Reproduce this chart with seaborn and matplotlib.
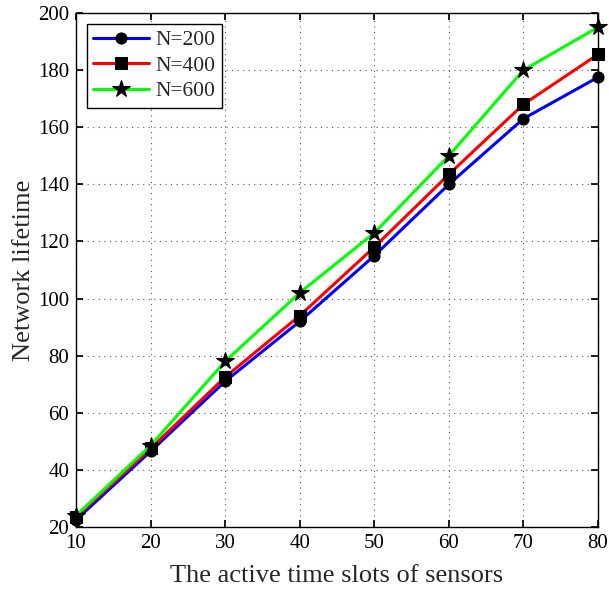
import matplotlib
matplotlib.use("Agg")
import matplotlib.pyplot as plt
import seaborn as sns
import pandas as pd

x = [10, 20, 30, 40, 50, 60, 70, 80]
n200 = [22.5, 46.5, 71, 92, 115, 140, 163, 177.5]
n400 = [23.5, 47.5, 72.5, 94, 118, 143.5, 168, 185.5]
n600 = [24, 48.5, 78, 102, 123, 150, 180, 195]
labels = ["N=200", "N=400", "N=600"]
colors = ["#0000ff", "#ff0000", "#00ff00"]
markers = ["o", "s", "*"]
msizes = [8, 8, 13]

sns.set_theme(style="ticks")
plt.rcParams["font.family"] = ["Liberation Serif", "DejaVu Serif"]
plt.rcParams["mathtext.fontset"] = "stix"

df = pd.DataFrame({"x": x * 3,
                   "y": n200 + n400 + n600,
                   "series": [labels[0]] * 8 + [labels[1]] * 8 + [labels[2]] * 8})

fig = plt.figure(figsize=(6.09, 5.89), dpi=100)
ax = fig.add_axes([76 / 609, 1 - 527 / 589, (598 - 76) / 609, (527 - 13) / 589])

for i, lab in enumerate(labels):
    sub = df[df["series"] == lab]
    sns.lineplot(data=sub, x="x", y="y", ax=ax, color=colors[i], linewidth=2.2,
                 marker=markers[i], markersize=msizes[i], markerfacecolor="black",
                 markeredgecolor="black", label=lab, clip_on=False, zorder=3)

ax.set_xlim(10, 80)
ax.set_ylim(20, 200)
ax.set_xticks(range(10, 81, 10))
ax.set_yticks(range(20, 201, 20))
ax.tick_params(direction="in", labelsize=15, length=5, top=True, right=True, colors="black", pad=5)
for s in ax.spines.values():
    s.set_color("black")
    s.set_linewidth(1.0)
ax.grid(True, linestyle=(0, (1, 4)), color="#555555", linewidth=0.8)
ax.set_xlabel("The active time slots of sensors", fontsize=19, labelpad=9)
ax.set_ylabel("Network lifetime", fontsize=19, labelpad=2)

leg = ax.legend(loc="upper left", fontsize=15.5, frameon=True, fancybox=False,
                edgecolor="black", framealpha=1, borderaxespad=0.5,
                handlelength=2.6, handletextpad=0.3, labelspacing=0.25, borderpad=0.3)
leg.get_frame().set_linewidth(1.0)

fig.savefig("out.png", dpi=100)
